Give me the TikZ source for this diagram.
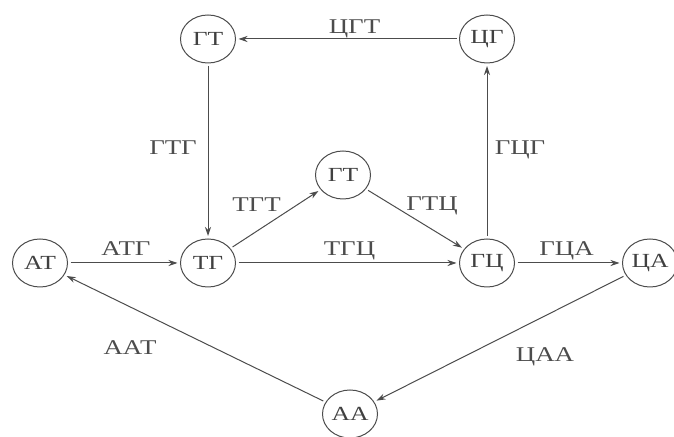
\documentclass[tikz,border=0pt]{standalone}
\usepackage{fontspec}
\setmainfont{Liberation Serif}[FakeStretch=1.28]
\usetikzlibrary{arrows.meta,shapes.geometric}
\begin{document}
\begin{tikzpicture}[x=1pt,y=1pt,
  state/.style={ellipse,draw=black!70,line width=1pt,minimum width=55pt,minimum height=48pt,inner sep=0pt,outer sep=3pt,text=black!75,font=\fontsize{20}{24}\selectfont},
  conn/.style={draw=black!70,line width=1pt,-{Stealth[length=9pt,width=6pt]}},
  lbl/.style={text=black!70,font=\fontsize{21}{24}\selectfont,inner sep=0pt,text height=14pt,text depth=0pt,anchor=center}]
\useasboundingbox (0,0) rectangle (674,436);
\node[state] (gt1) at (208,397) {ГТ};
\node[state] (cg)  at (487,397) {ЦГ};
\node[state] (gt2) at (343,261) {ГТ};
\node[state] (at)  at (40,173)  {АТ};
\node[state] (tg)  at (208,173) {ТГ};
\node[state] (gc)  at (487,173) {ГЦ};
\node[state] (ca)  at (650,173) {ЦА};
\node[state] (aa)  at (350,22)  {АА};
\draw[conn] (cg) -- node[lbl,xshift=7pt,yshift=12pt] (l1) {ЦГТ} (gt1);
\draw[conn] (gt1) -- node[lbl,xshift=-35pt,yshift=3pt] (l2) {ГТГ} (tg);
\draw[conn] (gc) -- node[lbl,xshift=33pt,yshift=3pt] (l3) {ГЦГ} (cg);
\draw[conn] (tg) -- node[lbl,xshift=-19pt,yshift=14pt] (l4) {ТГТ} (gt2);
\draw[conn] (gt2) -- node[lbl,xshift=17pt,yshift=15pt] (l5) {ГТЦ} (gc);
\draw[conn] (at) -- node[lbl,xshift=2pt,yshift=14pt] (l6) {АТГ} (tg);
\draw[conn] (tg) -- node[lbl,xshift=2pt,yshift=14pt] (l7) {ТГЦ} (gc);
\draw[conn] (gc) -- node[lbl,xshift=-2pt,yshift=14pt] (l8) {ГЦА} (ca);
\draw[conn] (ca) -- node[lbl,xshift=45pt,yshift=-16pt] (l9) {ЦАА} (aa);
\draw[conn] (aa) -- node[lbl,xshift=-65pt,yshift=-9pt] (l10) {ААТ} (at);
\end{tikzpicture}
\end{document}
